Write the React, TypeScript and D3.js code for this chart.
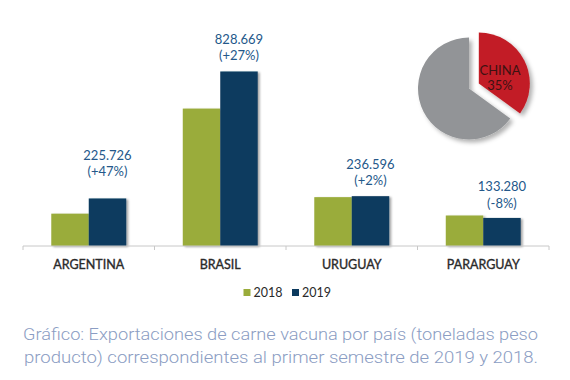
import React from "react";
import * as d3 from "d3";

const categories = ["ARGENTINA", "BRASIL", "URUGUAY", "PARARGUAY"];
const series = ["2018", "2019"];
const values2018 = [153560, 652495, 231957, 144870];
const values2019 = [225726, 828669, 236596, 133280];
const valueLabels = ["225.726", "828.669", "236.596", "133.280"];
const changeLabels = ["(+47%)", "(+27%)", "(+2%)", "(-8%)"];
const pieLabels = ["CHINA", "Resto"];
const pieValues = [35, 65];
const captionLines = [
  "Gráfico: Exportaciones de carne vacuna por país (toneladas peso",
  "producto) correspondientes al primer semestre de 2019 y 2018.",
];

const W = 570;
const H = 380;
const COLORS = ["#9aac3b", "#0c3a5e"];
const PIE_COLORS = ["#c21f26", "#929497"];
const LABEL_LIFT = [22, 11, 11, 10];
const FONT = "Lato, 'Open Sans', sans-serif";

export default function App() {
  const axisY = 246;
  const x = d3
    .scaleBand<string>()
    .domain(categories)
    .range([23, 549])
    .paddingInner(0.43)
    .paddingOuter(0.215);
  const xs = d3.scaleBand<string>().domain(series).range([0, x.bandwidth()]);
  const y = d3.scaleLinear().domain([0, 1000000]).range([axisY, 35.4]);
  const step = x.step();
  const ticks = categories.map((c) => (x(c) as number) - (step * 0.43) / 2);
  ticks.push((x(categories[categories.length - 1]) as number) + x.bandwidth() + (step * 0.43) / 2);

  const data = [values2018, values2019];

  const pieCx = 469;
  const pieCy = 88.5;
  const r = 51;
  const arcs = d3.pie<number>().sort(null).startAngle(0).endAngle(2 * Math.PI)(pieValues);
  const arcGen = d3.arc<d3.PieArcDatum<number>>().innerRadius(0).outerRadius(r);

  return (
    <svg
      width={W}
      height={H}
      style={{ position: "absolute", left: 0, top: 0, background: "#fff" }}
    >
      <defs>
        <filter id="barShadow" x="-20%" y="-20%" width="150%" height="150%">
          <feDropShadow dx="2" dy="1" stdDeviation="1.2" floodColor="#000" floodOpacity="0.35" />
        </filter>
        <filter id="pieShadow" x="-30%" y="-30%" width="170%" height="170%">
          <feDropShadow dx="3" dy="3" stdDeviation="2.2" floodColor="#000" floodOpacity="0.3" />
        </filter>
      </defs>

      {/* bars */}
      {categories.map((c, i) => (
        <g key={c} transform={`translate(${x(c)},0)`}>
          {series.map((s, j) => (
            <rect
              key={s}
              x={xs(s)}
              y={y(data[j][i])}
              width={xs.bandwidth()}
              height={axisY - y(data[j][i])}
              fill={COLORS[j]}
              filter="url(#barShadow)"
            />
          ))}
        </g>
      ))}

      {/* axis */}
      <line x1={ticks[0]} x2={ticks[ticks.length - 1]} y1={axisY} y2={axisY} stroke="#c8c8c8" strokeWidth={1} />
      {ticks.map((t, i) => (
        <line key={i} x1={t} x2={t} y1={axisY} y2={axisY + 4} stroke="#c8c8c8" strokeWidth={1} />
      ))}

      {/* category labels */}
      {categories.map((c) => (
        <text
          key={c}
          x={(x(c) as number) + x.bandwidth() / 2}
          y={268.5}
          textAnchor="middle"
          fontFamily={FONT}
          fontWeight={400}
          fontSize={12.5}
          fill="#2a2a2a"
          stroke="#2a2a2a"
          strokeWidth={0.35}
        >
          {c}
        </text>
      ))}

      {/* value labels */}
      {categories.map((c, i) => {
        const cx = (x(c) as number) + (xs("2019") as number) + xs.bandwidth() / 2;
        const base = y(values2019[i]) - LABEL_LIFT[i];
        return (
          <g key={c} fontFamily={FONT} fontSize={13} fill="#24588a" textAnchor="middle">
            <text x={cx} y={base - 16.5}>{valueLabels[i]}</text>
            <text x={cx} y={base}>{changeLabels[i]}</text>
          </g>
        );
      })}

      {/* legend */}
      <g fontFamily={FONT} fontSize={12.5} fill="#2a2a2a">
        <rect x={243.5} y={289} width={7} height={7} fill={COLORS[0]} />
        <text x={253.5} y={296.5}>{series[0]}</text>
        <rect x={292} y={289} width={7} height={7} fill={COLORS[1]} />
        <text x={302} y={296.5}>{series[1]}</text>
      </g>

      {/* pie */}
      <g transform={`translate(${pieCx},${pieCy})`}>
        {arcs.map((a, i) => {
          const mid = (a.startAngle + a.endAngle) / 2;
          const off = i === 0 ? 11 : 0;
          const dx = Math.sin(mid) * off;
          const dy = -Math.cos(mid) * off;
          return (
            <path
              key={i}
              d={arcGen(a) as string}
              transform={`translate(${dx},${dy})`}
              fill={PIE_COLORS[i]}
              filter="url(#pieShadow)"
            />
          );
        })}
        <g fontFamily={FONT} fontSize={13} fill="#3d1212" textAnchor="middle">
          <text x={500 - pieCx} y={75 - pieCy}>{pieLabels[0]}</text>
          <text x={500 - pieCx} y={89.5 - pieCy}>{pieValues[0]}%</text>
        </g>
      </g>

      {/* caption */}
      <g fontFamily="Roboto, sans-serif" fontWeight={300} fontSize={17} fill="#8b9dc3">
        <text x={23} y={340} textLength={515} lengthAdjust="spacingAndGlyphs">{captionLines[0]}</text>
        <text x={24} y={362.5} textLength={514} lengthAdjust="spacingAndGlyphs">{captionLines[1]}</text>
      </g>
    </svg>
  );
}
